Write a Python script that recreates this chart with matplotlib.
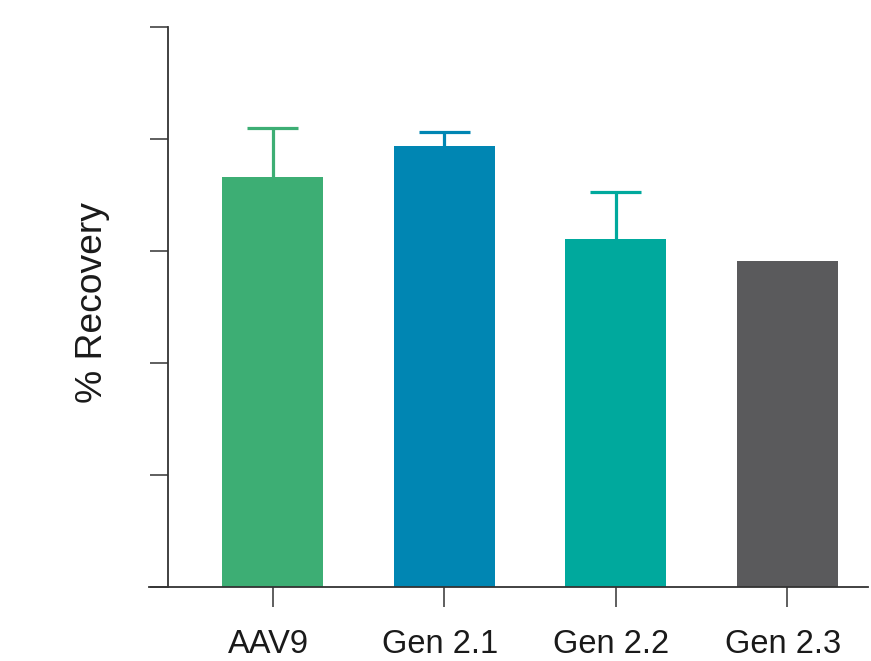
import matplotlib
matplotlib.use("Agg")
import matplotlib.pyplot as plt
from matplotlib.transforms import ScaledTranslation

# Recovery per capsid variant
categories = ["AAV9", "Gen 2.1", "Gen 2.2", "Gen 2.3"]
recovery = [73.2, 78.7, 62.1, 58.2]
error_up = [8.8, 2.5, 8.4, 0.0]
colors = ["#3DAE74", "#0086B3", "#00A99D", "#5A5A5C"]

plt.rcParams["font.family"] = ["Liberation Sans", "DejaVu Sans"]

W, H = 871, 661
fig = plt.figure(figsize=(W / 100, H / 100), dpi=100)

left_px, right_px = 149, 868
top_px, bottom_px = 27, 586.5
ax = fig.add_axes([left_px / W, 1 - bottom_px / H,
                   (right_px - left_px) / W, (bottom_px - top_px) / H])

spacing = 171.5
x0 = 272.5
xs = list(range(len(categories)))
bar_w = 101 / spacing
cap_w = 51 / spacing

for x, v, e, c in zip(xs, recovery, error_up, colors):
    ax.bar(x, v, width=bar_w, color=c, zorder=2)
    if e > 0:
        # upper error bar only: stem from the bar top plus a cap
        ax.vlines(x, v, v + e, colors=c, linewidth=2.3, zorder=1)
        ax.hlines(v + e, x - cap_w / 2, x + cap_w / 2, colors=c,
                  linewidth=2.3, zorder=1)

ax.set_xlim((left_px - x0) / spacing, (right_px - x0) / spacing)
ax.set_ylim(0, 100)

ax.spines["top"].set_visible(False)
ax.spines["right"].set_visible(False)
ax.spines["left"].set_position(("data", (167.5 - x0) / spacing))
for s in ("left", "bottom"):
    ax.spines[s].set_color("#333333")
    ax.spines[s].set_linewidth(1.3)

ax.set_yticks([0, 20, 40, 60, 80, 100])
ax.set_yticklabels([])
ax.tick_params(axis="y", length=13, width=1.1, color="#333333")
ax.set_xticks(xs)
ax.set_xticklabels(categories, fontsize=23.5, color="#1a1a1a")
ax.tick_params(axis="x", length=14.4, width=1.1, color="#333333", pad=16)

# nudge category labels slightly left of their ticks
shift = ScaledTranslation(-4 / 100, 0, fig.dpi_scale_trans)
for lbl in ax.get_xticklabels():
    lbl.set_transform(lbl.get_transform() + shift)

fig.text(92 / W, 1 - 303 / H, "% Recovery", rotation=90, ha="center",
         va="center", fontsize=26.8, color="#1a1a1a")

fig.savefig("out.png", dpi=100)
